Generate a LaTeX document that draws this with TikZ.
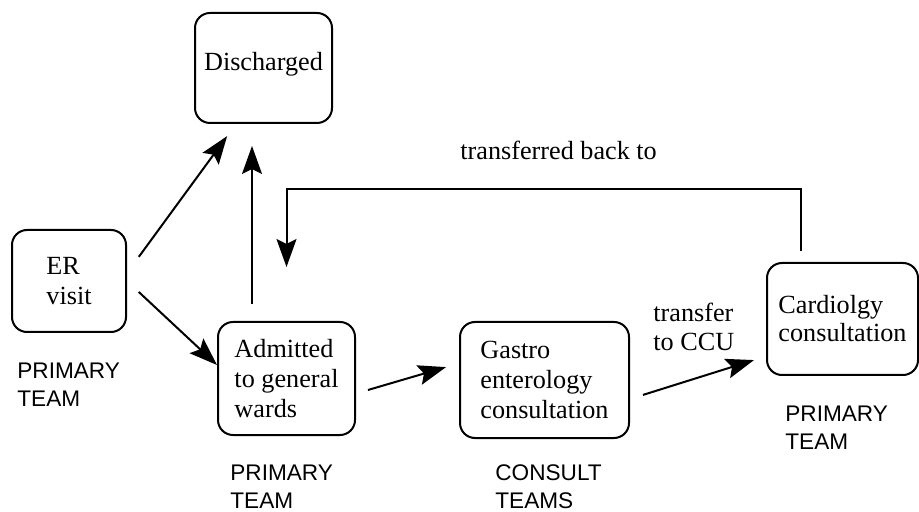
\documentclass[tikz,border=0pt]{standalone}
\usepackage{fontspec}
\setmainfont{Liberation Serif}
\setsansfont{Liberation Sans}
\usetikzlibrary{arrows.meta,calc}
\tikzset{>={Stealth[length=14pt,width=10pt,inset=2.5pt]}}
\tikzset{
  stage/.style={draw, line width=1pt, rounded corners=7.5pt, align=left, inner sep=2pt,
    font=\fontsize{13.1}{15}\selectfont},
  note/.style={inner sep=0pt, align=left, font=\fontsize{13.1}{14.5}\selectfont},
  team/.style={anchor=west, inner sep=0pt, align=left, font=\sffamily\fontsize{11.3}{14}\selectfont},
  flow/.style={->, line width=1pt}
}
\begin{document}
\begin{tikzpicture}[x=0.5pt,y=-0.5pt]
\useasboundingbox (0,0) rectangle (919,512);
% boxes
\node[stage, minimum width=68.5pt, minimum height=55pt] (dis) at (263.5,68) {\raisebox{2pt}[\height][\depth]{Discharged}};
\node[stage, minimum width=57pt, minimum height=51pt] (er) at (69,281) {ER\\visit};
\node[stage, minimum width=68.5pt, minimum height=56.5pt] (adm) at (286.5,378.5) {Admitted\\to general\\wards};
\node[stage, minimum width=84.5pt, minimum height=58pt] (gas) at (544.5,380) {Gastro\\enterology\\consultation};
\node[stage, minimum width=75.5pt, minimum height=56pt, font=\fontsize{13.1}{14}\selectfont] (card) at (842.5,319) {Cardiolgy\\consultation};
% texts
\node[note, anchor=base west] (backlbl) at (460,160) {transferred back to};
\node[note, anchor=west] (ccu) at (653,326.5) {transfer\\to CCU};
\node[team] (erteam) at (17,385) {PRIMARY\\TEAM};
\node[team] (admteam) at (230,487) {PRIMARY\\TEAM};
\node[team] (gasteam) at (495,487) {CONSULT\\TEAMS};
\node[team] (cardteam) at (785,428) {PRIMARY\\TEAM};
% arrows
\coordinate (backtop) at (0,189);
\coordinate (upfoot) at ($(adm.north)+(-34.5,0)$);
\coordinate (backfoot) at ($(card.north)+(-41.5,0)$);
\draw[flow, shorten <=10pt, shorten >=7.5pt] ($(er.east)+(0,-8)$) -- ($(dis.south west)+(42,0)$);
\draw[flow, shorten <=8pt] (er.east) -- ($(adm.west)+(0,-13.5)$);
\draw[flow, shorten <=8.5pt, shorten >=11pt] (upfoot) -- (upfoot |- dis.south);
\draw[flow, shorten <=5.5pt, shorten >=27pt] (backfoot) -- (backfoot |- backtop) -| (adm.north);
\draw[flow, shorten <=6.25pt, shorten >=6.75pt] ($(adm.east)+(0,15)$) -- ($(gas.west)+(0,-16.7)$);
\draw[flow, shorten <=6.8pt, shorten >=6.3pt] ($(gas.east)+(0,19)$) -- ($(card.west)+(0,37.3)$);
\end{tikzpicture}
\end{document}
